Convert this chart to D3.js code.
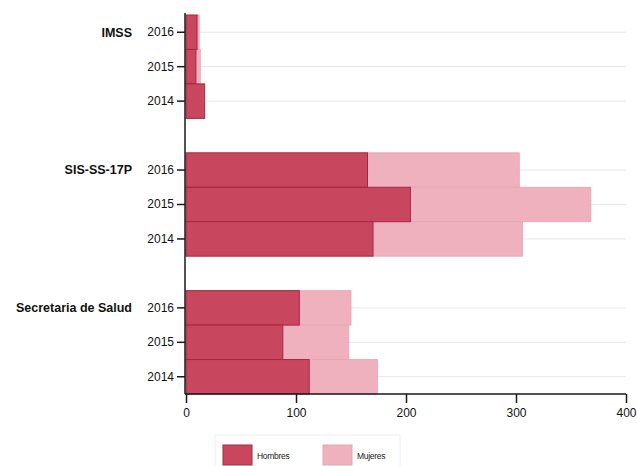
<!DOCTYPE html>
<html>
<head>
<meta charset="utf-8">
<script src="https://cdn.jsdelivr.net/npm/d3@7"></script>
<style>
  body { margin: 0; background: #fff; }
  svg { display: block; font-family: "Liberation Sans", Arial, sans-serif; }
</style>
</head>
<body>
<svg id="chart" width="637" height="466"></svg>
<script>
const groups = ["IMSS", "SIS-SS-17P", "Secretaria de Salud"];
const years = ["2016", "2015", "2014"];
const hombres = {
  "IMSS": [10, 9, 17],
  "SIS-SS-17P": [165, 204, 170],
  "Secretaria de Salud": [103, 88, 112]
};
const mujeres = {
  "IMSS": [2, 4, 0],
  "SIS-SS-17P": [138, 164, 136],
  "Secretaria de Salud": [47, 60, 62]
};
const xTicks = [0, 100, 200, 300, 400];
const seriesNames = ["Hombres", "Mujeres"];
const colors = ["#c9475e", "#f0b1be"];

const svg = d3.select("#chart");

// slot keys: 3 years per group + spacer between groups
const slots = [];
groups.forEach((g, gi) => {
  years.forEach(y => slots.push(g + "|" + y));
  if (gi < groups.length - 1) slots.push("gap" + gi);
});

const y = d3.scaleBand().domain(slots).range([15, 394]).padding(0);
const x = d3.scaleLinear().domain([0, 400]).range([186, 626]);

// rows
const rows = [];
groups.forEach(g => years.forEach((yr, i) => {
  rows.push({ key: g + "|" + yr, group: g, year: yr, h: hombres[g][i], m: mujeres[g][i] });
}));

// gridlines
svg.append("g").selectAll("line").data(rows).join("line")
  .attr("x1", x(0)).attr("x2", x(400))
  .attr("y1", d => y(d.key) + y.bandwidth() / 2)
  .attr("y2", d => y(d.key) + y.bandwidth() / 2)
  .attr("stroke", "#e6e6e6").attr("stroke-width", 1);

// mujeres bars (stacked after hombres)
svg.append("g").selectAll("rect").data(rows.filter(d => d.m > 0)).join("rect")
  .attr("x", d => x(d.h))
  .attr("y", d => y(d.key))
  .attr("width", d => x(d.h + d.m) - x(d.h))
  .attr("height", y.bandwidth())
  .attr("fill", colors[1])
  .attr("stroke", "#e8a2b1").attr("stroke-width", 0.8);

// hombres bars
svg.append("g").selectAll("rect").data(rows).join("rect")
  .attr("x", x(0))
  .attr("y", d => y(d.key))
  .attr("width", d => x(d.h) - x(0))
  .attr("height", y.bandwidth())
  .attr("fill", colors[0])
  .attr("stroke", "#a3283f").attr("stroke-width", 1);

// y axis
const yAxis = d3.axisLeft(y)
  .tickValues(rows.map(d => d.key))
  .tickFormat(k => k.split("|")[1])
  .tickSize(8).tickPadding(3);
const gy = svg.append("g").attr("transform", `translate(${x(0) - 1},0)`).call(yAxis);
gy.select(".domain").attr("d", `M0,13V394`).attr("stroke", "#1a1a1a").attr("stroke-width", 1.5);
gy.selectAll(".tick line").attr("stroke", "#1a1a1a").attr("stroke-width", 1.5);
gy.selectAll(".tick text").attr("font-size", 12).attr("fill", "#111")
  .attr("font-family", "Liberation Sans, Arial, sans-serif");

// group labels
svg.append("g").selectAll("text").data(groups).join("text")
  .attr("x", 132)
  .attr("y", g => y(g + "|2016") + y.bandwidth() / 2)
  .attr("dy", "0.35em")
  .attr("text-anchor", "end")
  .attr("font-size", 12.5).attr("font-weight", "bold").attr("fill", "#111")
  .text(g => g);

// x axis
const xAxis = d3.axisBottom(x).tickValues(xTicks).tickSize(9).tickPadding(5);
const gx = svg.append("g").attr("transform", "translate(0,394)").call(xAxis);
gx.select(".domain").attr("d", `M${x(0) - 1},0H${x(400)}`).attr("stroke", "#1a1a1a").attr("stroke-width", 1.5);
gx.selectAll(".tick line").attr("stroke", "#1a1a1a").attr("stroke-width", 1.5);
gx.selectAll(".tick text").attr("font-size", 12).attr("fill", "#111")
  .attr("font-family", "Liberation Sans, Arial, sans-serif");

// legend
const lg = svg.append("g");
lg.append("rect").attr("x", 215).attr("y", 435).attr("width", 185).attr("height", 40)
  .attr("fill", "#fff").attr("stroke", "#eeeeee");
const items = lg.selectAll("g.item").data(seriesNames).join("g")
  .attr("transform", (d, i) => `translate(${223 + i * 100},445)`);
items.append("rect").attr("width", 29).attr("height", 20)
  .attr("fill", (d, i) => colors[i])
  .attr("stroke", (d, i) => i === 0 ? "#a3283f" : "#e8a2b1").attr("stroke-width", 1);
items.append("text").attr("x", 34).attr("y", 11).attr("dy", "0.35em")
  .attr("font-size", 8.5).attr("fill", "#222").attr("letter-spacing", -0.3)
  .text(d => d);
</script>
</body>
</html>
